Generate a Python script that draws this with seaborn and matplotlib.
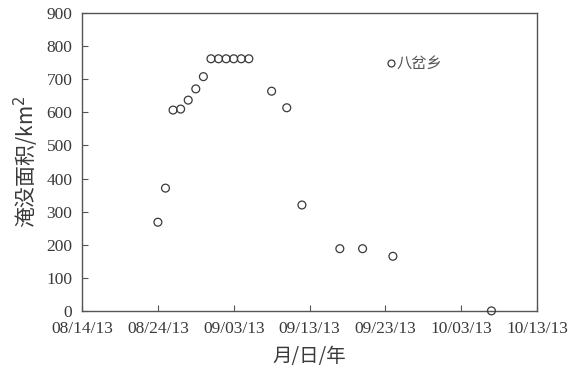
import pandas as pd
import matplotlib
matplotlib.use('Agg')
import matplotlib.pyplot as plt
import matplotlib.dates as mdates
import seaborn as sns

# ======================
# Datos
# ======================
fechas = ['2013-08-24', '2013-08-25', '2013-08-26', '2013-08-27', '2013-08-28',
          '2013-08-29', '2013-08-30', '2013-08-31', '2013-09-01', '2013-09-02',
          '2013-09-03', '2013-09-04', '2013-09-05', '2013-09-08', '2013-09-10',
          '2013-09-12', '2013-09-17', '2013-09-20', '2013-09-24', '2013-10-07']
area = [268, 371, 607, 610, 637, 671, 708, 762, 762, 762,
        762, 762, 762, 664, 614, 320, 188, 188, 165, 0]
serie = '八岔乡'
yticks = [0, 100, 200, 300, 400, 500, 600, 700, 800, 900]
xticks = ['2013-08-14', '2013-08-24', '2013-09-03', '2013-09-13',
          '2013-09-23', '2013-10-03', '2013-10-13']

df = pd.DataFrame({'fecha': pd.to_datetime(fechas), 'area': area, 'serie': serie})

sns.set_theme(style="white")
plt.rcParams['font.family'] = ['Liberation Serif', 'Noto Sans CJK SC']
cjk = ['Noto Sans CJK SC', 'DejaVu Sans']
gris = '#3a3a3a'

fig = plt.figure(figsize=(5.7, 3.75), dpi=100)
ax = fig.add_axes([0.144, 0.171, 0.798, 0.794])

sns.scatterplot(data=df, x='fecha', y='area', hue='serie', palette=['none'],
                marker='o', s=32, edgecolor=gris, linewidth=0.9,
                clip_on=False, ax=ax, zorder=3, legend=False)

ax.set_xlim(pd.Timestamp(xticks[0]), pd.Timestamp(xticks[-1]))
ax.set_ylim(0, 900)
ax.set_xticks(pd.to_datetime(xticks))
ax.xaxis.set_major_formatter(mdates.DateFormatter('%m/%d/%y'))
ax.set_yticks(yticks)

for s in ax.spines.values():
    s.set_color('#555555')
    s.set_linewidth(1.0)
ax.tick_params(bottom=True, left=True, direction='in', length=4, width=0.8,
               color='#555555', labelsize=12.5, labelcolor=gris, pad=7)

ax.set_xlabel('月/日/年', family=cjk, fontsize=14, color=gris, labelpad=7)
ax.set_ylabel('淹没面积/km$^2$', family=cjk, fontsize=15, color=gris, labelpad=4)

# leyenda con marcador hueco
handle = plt.Line2D([], [], ls='none', marker='o', markersize=5,
                    markerfacecolor='none', markeredgecolor=gris, markeredgewidth=0.9)
leg = ax.legend([handle], [serie], loc='upper left', bbox_to_anchor=(0.645, 0.895),
                frameon=False, handletextpad=0.1, handlelength=0.6, borderpad=0.2,
                prop={'family': cjk, 'size': 11})
for t in leg.get_texts():
    t.set_color('#555555')

plt.savefig('out.png', dpi=100)
plt.close()
